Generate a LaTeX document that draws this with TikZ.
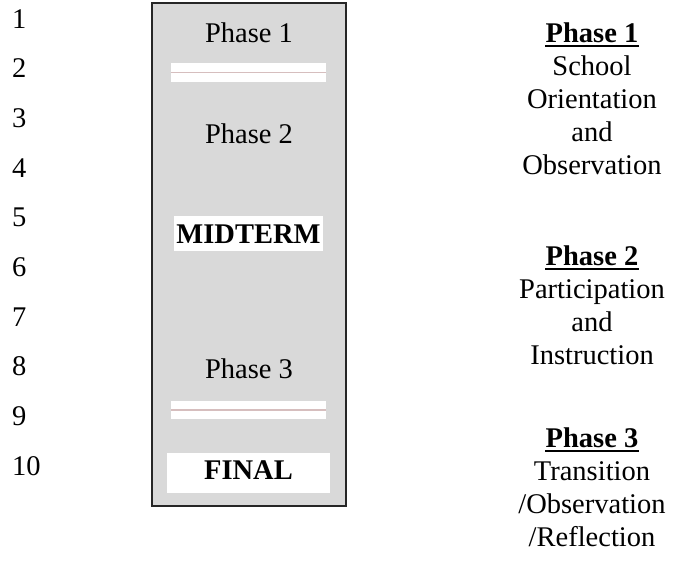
\documentclass[tikz,border=0pt]{standalone}
\usepackage{fontspec}
\setmainfont{Liberation Serif}
\begin{document}
\begin{tikzpicture}[x=1pt,y=-1pt,
  every node/.style={inner sep=0pt,anchor=base,font=\fontsize{28.5}{33}\selectfont},
  num/.style={anchor=base west},
  bar/.style={fill=white,draw=none},
  sep/.style={draw={rgb,255:red,214;green,190;blue,190},line width=1.5pt},
  hdr/.style={font=\fontsize{28.5}{33}\selectfont\bfseries},
  uline/.style={line width=1.6pt}]
\useasboundingbox (0,0) rectangle (673,563);
% numbers
\foreach \i in {1,...,10}{
  \node[num] (n\i) at (12,{28+49.7*(\i-1)}) {\i};
}
% main box
\path[fill={rgb,255:red,217;green,217;blue,217},draw=black!85,line width=1.4pt]
  (152,3) rectangle (346,506);
\node (p1) at (249,42) {Phase 1};
\fill[bar] (171,63) rectangle (326,82);
\draw[sep] (171,72.5) -- (326,72.5);
\node (p2) at (249,143) {Phase 2};
\fill[bar] (174,216) rectangle (323,251);
\node[hdr] (mid) at (248.5,243) {MIDTERM};
\node (p3) at (249,378) {Phase 3};
\fill[bar] (171,401) rectangle (326,419);
\draw[sep] (171,410) -- (326,410);
\fill[bar] (167,453) rectangle (330,493);
\node[hdr] (fin) at (248.5,479) {FINAL};
% right column
\node[hdr] (h1) at (592,42) {Phase 1};
\draw[uline] ([yshift=-4pt]h1.base west) -- ([yshift=-4pt]h1.base east);
\node (a1) at (592,75) {School};
\node (a2) at (592,108) {Orientation};
\node (a3) at (592,141) {and};
\node (a4) at (592,174) {Observation};
\node[hdr] (h2) at (592,265) {Phase 2};
\draw[uline] ([yshift=-4pt]h2.base west) -- ([yshift=-4pt]h2.base east);
\node (b1) at (592,298) {Participation};
\node (b2) at (592,331) {and};
\node (b3) at (592,364) {Instruction};
\node[hdr] (h3) at (592,447) {Phase 3};
\draw[uline] ([yshift=-4pt]h3.base west) -- ([yshift=-4pt]h3.base east);
\node (c1) at (592,480) {Transition};
\node (c2) at (592,513) {/Observation};
\node (c3) at (592,546) {/Reflection};
\end{tikzpicture}
\end{document}
